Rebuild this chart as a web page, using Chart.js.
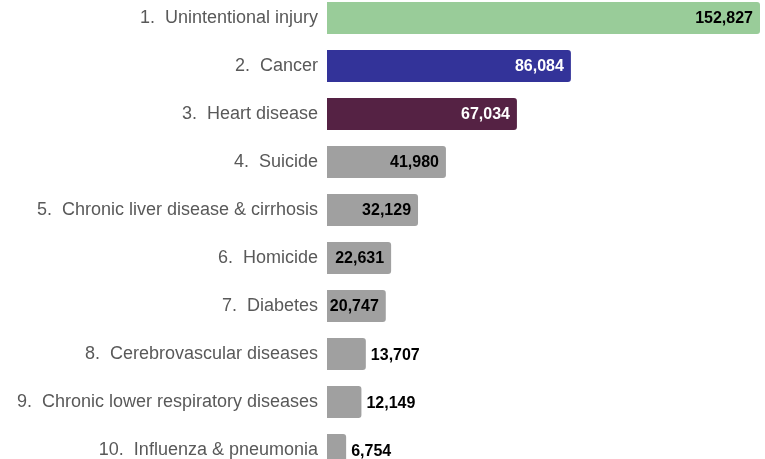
<!DOCTYPE html>
<html>
<head>
<meta charset="utf-8">
<script src="https://cdn.jsdelivr.net/npm/chart.js@4"></script>
<style>
html,body{margin:0;padding:0;background:#fff;overflow:hidden;width:765px;height:459px;}
#c{position:absolute;left:0;top:-6px;}
</style>
</head>
<body>
<canvas id="c" width="765" height="480" style="width:765px;height:480px;"></canvas>
<script>
const categories = [
  "1.  Unintentional injury",
  "2.  Cancer",
  "3.  Heart disease",
  "4.  Suicide",
  "5.  Chronic liver disease & cirrhosis",
  "6.  Homicide",
  "7.  Diabetes",
  "8.  Cerebrovascular diseases",
  "9.  Chronic lower respiratory diseases",
  "10.  Influenza & pneumonia"
];
const deaths = [152827, 86084, 67034, 41980, 32129, 22631, 20747, 13707, 12149, 6754];
const barColors = ["#99CC99", "#333399", "#552244", "#A0A0A0", "#A0A0A0", "#A0A0A0", "#A0A0A0", "#A0A0A0", "#A0A0A0", "#A0A0A0"];
const labelColors = ["#000000", "#FFFFFF", "#FFFFFF", "#000000", "#000000", "#000000", "#000000", "#000000", "#000000", "#000000"];
const insideThreshold = 20000;

const valueLabels = {
  id: 'valueLabels',
  afterDatasetsDraw(chart) {
    const ctx = chart.ctx;
    const meta = chart.getDatasetMeta(0);
    ctx.save();
    ctx.font = 'bold 16px "Liberation Sans", Arial, sans-serif';
    ctx.textBaseline = 'middle';
    meta.data.forEach((bar, i) => {
      const v = deaths[i];
      const txt = v.toLocaleString('en-US');
      if (v >= insideThreshold) {
        ctx.fillStyle = labelColors[i];
        ctx.textAlign = 'right';
        ctx.fillText(txt, bar.x - 7, bar.y + 1);
      } else {
        ctx.fillStyle = '#000000';
        ctx.textAlign = 'left';
        ctx.fillText(txt, bar.x + 5, bar.y + 2);
      }
    });
    ctx.restore();
  }
};

new Chart(document.getElementById('c'), {
  type: 'bar',
  data: {
    labels: categories,
    datasets: [{
      data: deaths,
      backgroundColor: barColors,
      borderRadius: 3,
      borderSkipped: 'start',
      categoryPercentage: 1.0,
      barPercentage: 0.667
    }]
  },
  options: {
    indexAxis: 'y',
    responsive: false,
    maintainAspectRatio: false,
    animation: false,
    devicePixelRatio: 1,
    layout: { padding: 0 },
    plugins: { legend: { display: false }, tooltip: { enabled: false } },
    scales: {
      x: { display: false, min: 0, max: 154592 },
      y: {
        grid: { display: false, drawTicks: false },
        border: { display: false },
        ticks: {
          color: '#595959',
          padding: 9,
          font: { family: '"Liberation Sans", Arial, sans-serif', size: 18 }
        },
        afterFit(scale) {
          scale.width = 327;
          scale.paddingTop = 0;
          scale.paddingBottom = 0;
        }
      }
    }
  },
  plugins: [valueLabels]
});
</script>
</body>
</html>
